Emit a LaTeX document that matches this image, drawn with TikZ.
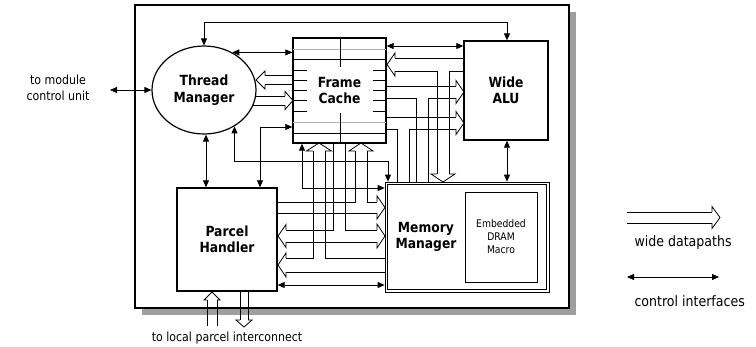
\documentclass[tikz,border=0pt]{standalone}
\usepackage{fontspec}
\setmainfont{DejaVu Sans}[FakeStretch=0.88]
\usetikzlibrary{arrows.meta,shapes.geometric}
\tikzset{
  ctl/.style={line width=0.8pt, {Triangle[length=7pt,width=6pt]}-{Triangle[length=7pt,width=6pt]}},
  blk/.style={draw, line width=1.4pt, fill=white, inner sep=0pt},
  lbl/.style={font=\bfseries\fontsize{14}{16.5}\selectfont, align=center},
  sml/.style={font=\fontsize{12.5}{15.5}\selectfont, align=center},
  leg/.style={font=\fontsize{14.3}{16}\selectfont, anchor=west},
  wl/.style={line width=0.8pt, line join=miter},
}
% wide arrow heads: tip x, tip y, shaft half width, head half width, head length
\newcommand\whL[5]{\draw[wl] ({#1+#5},{#2-#3}) -- ({#1+#5},{#2-#4}) -- (#1,#2) -- ({#1+#5},{#2+#4}) -- ({#1+#5},{#2+#3});}
\newcommand\whR[5]{\draw[wl] ({#1-#5},{#2-#3}) -- ({#1-#5},{#2-#4}) -- (#1,#2) -- ({#1-#5},{#2+#4}) -- ({#1-#5},{#2+#3});}
\newcommand\whU[5]{\draw[wl] ({#1-#3},{#2+#5}) -- ({#1-#4},{#2+#5}) -- (#1,#2) -- ({#1+#4},{#2+#5}) -- ({#1+#3},{#2+#5});}
\newcommand\whD[5]{\draw[wl] ({#1-#3},{#2-#5}) -- ({#1-#4},{#2-#5}) -- (#1,#2) -- ({#1+#4},{#2-#5}) -- ({#1+#3},{#2-#5});}
\begin{document}
\begin{tikzpicture}[x=1pt,y=-1pt]
\useasboundingbox (0,0) rectangle (756,346);
% board with shadow
\fill[gray!75] (142,12) rectangle (576,315);
\node[draw, line width=1.5pt, fill=white, minimum width=434pt, minimum height=303pt, inner sep=0pt] (board) at (352,156.5) {};

% blocks
\node[blk, ellipse, line width=1.2pt, minimum width=104pt, minimum height=88pt, lbl] (tm) at (204,90) {Thread\\Manager};
\node[blk, minimum width=93pt, minimum height=105pt] (fc) at (339.5,90.5) {};
\node[blk, minimum width=84pt, minimum height=99pt, lbl] (alu) at (506,90.5) {Wide\\ALU};
\node[blk, minimum width=100pt, minimum height=103pt, lbl] (ph) at (227,239.5) {Parcel\\Handler};
\node[draw, line width=0.7pt, fill=white, minimum width=164pt, minimum height=110pt, inner sep=0pt] (mm) at (467,237) {};
\draw[line width=1.2pt] ([shift={(3,3)}]mm.north west) rectangle ([shift={(-3,-3)}]mm.south east);
\node[draw, line width=0.8pt, minimum width=72pt, minimum height=90pt, align=center, font=\fontsize{10.5}{13}\selectfont] (dram) at (501,237) {Embedded\\DRAM\\Macro};
\node[lbl] (mmlbl) at (426,237) {Memory\\Manager};

% frame cache interior
\draw[gray!60, line width=1pt] (293,49) -- (386,49) (293,122) -- (386,122);
\draw[line width=0.6pt] (293,59) -- (386,59) (293,133) -- (386,133);
\foreach \yy in {70,80,90,100,111} {\draw[line width=0.6pt] (293,\yy) -- (307,\yy) (373,\yy) -- (386,\yy);}
\draw[line width=0.6pt] (340,38) -- (340,67) (340,113) -- (340,143);
\node[lbl] (fclbl) at (fc) {Frame\\Cache};

% wide datapaths: FC <-> Thread Manager
\draw[wl] (fc.west |- 0,75.5) -- (265,75.5);
\draw[wl] (fc.west |- 0,84.5) -- (265,84.5);
\whL{256}{80}{4.5}{9}{9}
\draw[wl] (255.5,96) -- (285,96);
\draw[wl] (253,105) -- (285,105);
\whR{293}{100.5}{4.5}{9}{8}

% wide datapaths: ALU -> FC and MM
\draw[wl] (alu.west |- 0,58) -- (395,58);
\whL{387}{64.5}{6.5}{11.5}{8}
\draw[wl] (395,71) -- (437,71) -- (437,174);
\draw[wl] (alu.west |- 0,71) -- (449,71) -- (449,174);
\whD{443}{182}{6}{12}{8}
% FC and MM -> ALU (A)
\draw[wl] (fc.east |- 0,86) -- (456,86);
\whR{464}{92}{6}{11.5}{8}
\draw[wl] (456,98) -- (428,98) -- (428,182);
\draw[wl] (fc.east |- 0,98) -- (416,98) -- (416,182);
% FC and MM -> ALU (B)
\draw[wl] (fc.east |- 0,117) -- (456,117);
\whR{464}{123}{6}{11.5}{8}
\draw[wl] (456,129) -- (409,129) -- (409,182);
\draw[wl] (fc.east |- 0,129) -- (397,129) -- (397,182);

% MM -> PH and FC
\whU{319}{143}{6}{12.5}{8}
\draw[wl] (313,151) -- (313,258) -- (286,258);
\whL{278}{265}{7}{12}{8}
\draw[wl] (286,272) -- (385,272);
\draw[wl] (325,151) -- (325,258) -- (385,258);
% FC -> PH and MM
\draw[wl] (333,143) -- (333,230) -- (286,230);
\draw[wl] (345,143) -- (345,230) -- (377,230);
\whL{278}{236}{6}{11.5}{8}
\whR{385}{236}{6}{12}{8}
\draw[wl] (286,242) -- (377,242);
% PH -> MM and FC
\whU{361}{143}{6}{12}{8}
\draw[wl] (355,151) -- (355,202) -- (277,202);
\draw[wl] (367,151) -- (367,202) -- (377,202);
\draw[wl] (277,213) -- (377,213);
\whR{385}{207.5}{5.5}{11.5}{8}

% PH external wide arrows
\draw[wl] (207,326) -- (207,300);
\draw[wl] (217,326) -- (217,300);
\whU{212}{292}{5}{8}{8}
\draw[wl] (240,291) -- (240,320);
\draw[wl] (248,291) -- (248,320);
\whD{244}{327}{4}{8}{7}

% control interfaces
\coordinate (ext) at (110,90);
\draw[ctl] (ext) -- (tm.west);
\draw[ctl] (tm.north) |- (507,22) -- (alu.north -| 507,0);
\draw[ctl] (tm.53) -- (fc.west |- tm.53);
\draw[ctl] (fc.east |- 0,46) -- (alu.west |- 0,46);
\draw[ctl] (tm.south -| 206,0) -- (ph.north -| 206,0);
\draw[ctl] (ph.north -| 260,0) |- (fc.west |- 0,127);
\draw[ctl] (tm.-50) |- (388,161) -- (mm.north -| 388,0);
\draw[ctl] (fc.south -| 302,0) |- (mm.west |- 0,188);
\draw[ctl] (alu.south -| 507,0) -- (mm.north -| 507,0);
\draw[ctl] (ph.east |- 0,285) -- (mm.west |- 0,285);

% external labels
\node[sml] (tmod) at (58,88) {to module\\control unit};
\node[sml] (tloc) at (227,338) {to local parcel interconnect};

% legend
\draw[wl] (627,212) -- (712,212);
\draw[wl] (627,223) -- (712,223);
\whR{720}{217.5}{5.5}{11}{8}
\node[leg] (lw) at (631,243) {wide datapaths};
\coordinate (lc1) at (627,277);
\coordinate (lc2) at (719,277);
\draw[ctl] (lc1) -- (lc2);
\node[leg] (lci) at (631,301) {control interfaces};
\end{tikzpicture}
\end{document}
